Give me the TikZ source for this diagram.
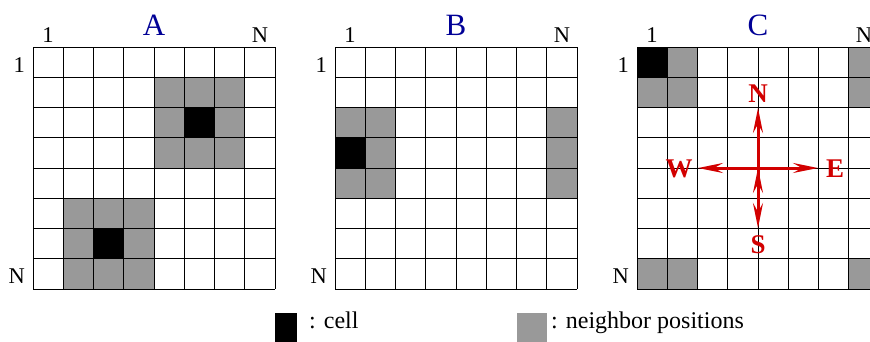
\documentclass[tikz,border=0pt]{standalone}
\usepackage{fontspec}
\setmainfont{Liberation Serif}
\usepackage{xcolor}
\usetikzlibrary{arrows.meta}

\definecolor{dirred}{RGB}{210,0,0}
\definecolor{titleblue}{RGB}{0,0,150}

% one square of a grid: left edge, column, row, style
\newcommand{\putcell}[4]{\fill[#4] ({#1+(#2-1)*30.25},{47+(#3-1)*30.25}) rectangle ++(30.25,30.25);}

\begin{document}
\begin{tikzpicture}[x=1pt, y=-1pt, >={Stealth[length=25pt, width=10pt, inset=9pt]}]
		\tikzstyle{cellbox} = [fill=black]
		\tikzstyle{nbbox} = [fill=black!40]
		\tikzstyle{gridline} = [draw=black, line width=0.9pt]
		\tikzstyle{lbl} = [inner sep=0, font=\fontsize{22.5}{24}\selectfont]
		\tikzstyle{legtxt} = [inner sep=0, font=\fontsize{24}{26}\selectfont]
		\tikzstyle{ttl} = [inner sep=0, text=titleblue, font=\fontsize{31}{33}\selectfont]
		\tikzstyle{dir} = [inner sep=0, text=dirred, font=\bfseries\fontsize{27}{29}\selectfont]
		\tikzstyle{dirarrow} = [->, draw=dirred, line width=3pt]
		
		\useasboundingbox (0,0) rectangle (870,341);
		\clip (0,0) rectangle (870,341);
		
		% grid A
		\foreach \c/\r in {5/2,6/2,7/2,5/3,7/3,5/4,6/4,7/4,2/6,3/6,4/6,2/7,4/7,2/8,3/8,4/8}
			\putcell{33}{\c}{\r}{nbbox};
		\putcell{33}{6}{3}{cellbox};
		\putcell{33}{3}{7}{cellbox};
		
		% grid B
		\foreach \c/\r in {1/3,2/3,2/4,1/5,2/5,8/3,8/4,8/5}
			\putcell{335}{\c}{\r}{nbbox};
		\putcell{335}{1}{4}{cellbox};
		
		% grid C
		\foreach \c/\r in {2/1,1/2,2/2,8/1,8/2,1/8,2/8,8/8}
			\putcell{637}{\c}{\r}{nbbox};
		\putcell{637}{1}{1}{cellbox};
		
		\foreach \gx/\gname in {33/A,335/B,637/C} {
			\foreach \i in {0,...,8} {
				\draw[gridline] ({\gx+\i*30.25},47) -- ++(0,242);
				\draw[gridline] (\gx,{47+\i*30.25}) -- ++(242,0);
			}
			\node[ttl, anchor=base] 	at ({\gx+121},35) 	(ttl-\gname) 	{\gname};
			\node[lbl, anchor=base] 	at ({\gx+15},42) 	(c1-\gname) 	{1};
			\node[lbl, anchor=base] 	at ({\gx+227},42) 	(cN-\gname) 	{N};
			\node[lbl, anchor=base east] 	at ({\gx-8},72) 	(r1-\gname) 	{1};
			\node[lbl, anchor=base east] 	at ({\gx-8},283) 	(rN-\gname) 	{N};
		}
		
		% directions in C
		\coordinate (ctr) at (758,168);
		\coordinate (ntip) at (758,108);
		\coordinate (stip) at (758,228);
		\coordinate (wtip) at (698,168);
		\coordinate (etip) at (818,168);
		\node[dir, anchor=base] 	at (758,102) 	(nlab) 	{N};
		\node[dir, anchor=base] 	at (758,253) 	(slab) 	{S};
		\node[dir, anchor=base] 	at (679,177) 	(wlab) 	{W};
		\node[dir, anchor=base] 	at (835,177) 	(elab) 	{E};
		
		\path[dirarrow]
		(ctr)	edge	(ntip)
		(ctr)	edge	(stip)
		(ctr)	edge	(wtip)
		(ctr)	edge	(etip);
		
		% legend
		\fill[cellbox] (275,313) rectangle (297,345);
		\node[legtxt, anchor=base west] 	at (309,328) 	(celltxt) 	{: cell};
		\fill[nbbox] (517,313) rectangle (547,345);
		\node[legtxt, anchor=base west] 	at (551,328) 	(nbtxt) 	{: neighbor positions};
\end{tikzpicture}
\end{document}
